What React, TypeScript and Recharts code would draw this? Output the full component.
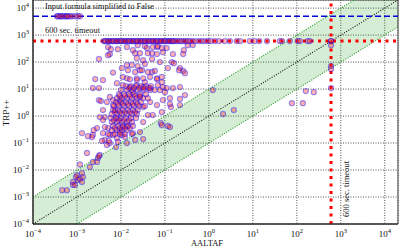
import { ComposedChart, Area, Scatter, XAxis, YAxis, CartesianGrid, ReferenceLine, ReferenceArea } from "recharts";

// axes: both log, same limits
const decadeTicks = [1e-4, 1e-3, 1e-2, 1e-1, 1, 10, 100, 1e3, 1e4];
const axisMin = 1e-4;
const axisMax = 2e4;

const timeoutLimit = 600;     // 600 sec. timeout
const simplifiedLevel = 5000; // "Input formula simplified to False"

// green band: one decade either side of y = x
const bandX = [1e-4, 1e-3, 2e3, 2e4];
const bandLow = [1e-4, 1e-4, 200, 2000];
const bandHigh = [1e-3, 1e-2, 2e4, 2e4];

// runs where TRP++ reported the formula simplified to False
const simplifiedX = [3.5e-4, 3.7e-4, 4.1e-4, 4.3e-4, 4.6e-4, 5.1e-4, 5.6e-4, 5.9e-4, 6.2e-4, 6.9e-4, 7.7e-4, 9.0e-4, 1.05e-3, 1.17e-3];

// runs where TRP++ timed out (AALTAF time)
const timeoutX = [
  4.1e-3, 4.3e-3, 4.6e-3, 5.1e-3, 5.3e-3, 5.6e-3, 6.2e-3, 6.6e-3, 6.9e-3, 7.7e-3, 8.1e-3, 8.5e-3, 9.5e-3, 1.0e-2,
  1.05e-2, 1.17e-2, 1.23e-2, 1.3e-2, 1.44e-2, 1.52e-2, 1.6e-2, 1.78e-2, 1.87e-2, 1.97e-2, 2.2e-2, 2.3e-2, 2.4e-2,
  2.7e-2, 2.85e-2, 3.0e-2, 3.3e-2, 3.5e-2, 3.7e-2, 4.1e-2, 4.3e-2, 4.6e-2, 5.1e-2, 5.3e-2, 5.6e-2, 6.2e-2, 6.6e-2,
  6.9e-2, 7.7e-2, 8.1e-2, 8.5e-2, 9.5e-2, 0.1, 0.105, 0.117, 0.124, 0.13, 0.144, 0.152, 0.16, 0.178, 0.197, 0.22,
  0.24, 0.27, 0.3, 0.33, 0.37, 0.43, 0.5, 0.6, 0.7, 0.81, 0.95, 1.1, 1.37, 1.7, 2.3, 3.0, 4.3, 5.1, 8.5, 11, 14,
  21, 41, 46, 69, 105, 117, 178, 197, 600,
];

// runs where AALTAF timed out
const aaltafTimeoutY = [600, 425, 71, 55, 10.9];

// [AALTAF, TRP++] seconds
const solvedRuns: [number, number][] = [
  // upper scatter
  [3.16e-3, 130], [5.1e-3, 360], [5.6e-3, 198], [5.9e-3, 300], [8.5e-3, 300], [1.37e-2, 360], [1.87e-2, 277],
  [2.4e-2, 425], [2.7e-2, 214], [3.5e-2, 390], [3.9e-2, 330], [5.1e-2, 214], [5.3e-2, 360], [6.6e-2, 360],
  [6.9e-2, 390], [9.0e-2, 233], [8.5e-2, 330], [0.11, 330], [0.152, 198], [0.27, 277], [0.26, 198], [0.33, 425],
  [0.43, 430], [5.1e-3, 180], [2.1e-2, 214], [4.1e-2, 214], [6.6e-2, 198], [2.3e-2, 140], [3.2e-2, 117], [5.1e-2, 130],
  [0.144, 100], [0.16, 91], [0.22, 60], [7.7e-2, 100], [2.6e-3, 23.5], [6.6e-3, 41], [1.05e-2, 60], [1.78e-2, 78],
  [1.37e-2, 78], [2.7e-2, 50], [5.1e-2, 43], [8.1e-3, 16.6], [1.37e-2, 25], [2.3e-2, 25], [3.5e-2, 18], [6.6e-2, 25],
  [0.26, 47], [0.285, 39], [0.117, 60], [0.21, 50], [8.5e-2, 28], [8.5e-2, 18], [2.4e-2, 71], [3.5e-2, 85],
  [1.44e-2, 50], [2.1e-2, 43], [3.0e-2, 50], [4.1e-2, 43], [5.9e-2, 47], [3.9e-3, 21.5], [1.1e-2, 28], [1.6e-2, 23],
  [2.3e-2, 21.5], [3.2e-2, 25], [4.6e-2, 28], [6.6e-2, 23.5],
  // middle scatter
  [3.16e-3, 10.9], [2.3e-3, 10.9], [0.11, 10.9], [0.152, 10.9], [6.9e-2, 14], [9.0e-2, 11.9], [0.22, 11.9],
  [7.7e-2, 9.2], [0.1, 7.7], [0.285, 6.0], [0.13, 4.6], [0.22, 4.3], [1.1e-2, 14], [1.6e-2, 11.9], [2.3e-2, 14],
  [3.2e-2, 11.9], [4.6e-2, 10.9], [1.87e-2, 7.7],
  [3.16e-3, 3.9], [3.5e-3, 3.6], [3.9e-3, 1.67], [5.6e-3, 5.1], [6.6e-3, 2.55], [9.5e-3, 3.9], [2.7e-2, 5.1],
  [4.6e-2, 3.3], [6.6e-2, 2.55], [9.0e-2, 3.9], [0.137, 2.15], [8.1e-3, 0.84], [3.3e-3, 0.92], [5.3e-2, 1.09],
  [8.5e-2, 1.4], [4.8e-3, 3.3], [4.3e-3, 0.92], [3.9e-3, 0.71], [6.6e-3, 3.9], [7.3e-3, 1.67], [3.2e-2, 2.15],
  [4.1e-2, 1.09], [3.2e-2, 0.6], [0.13, 2.8], [0.22, 2.55],
  [2.85e-3, 0.36], [5.1e-3, 0.36], [2.3e-3, 0.2], [5.6e-3, 0.2], [2.7e-2, 0.255], [1.87e-2, 0.234], [8.1e-2, 0.55],
  [0.117, 0.43], [8.5e-2, 0.46], [0.13, 0.39], [3.2e-2, 0.14], [1.3e-3, 0.234], [1.78e-3, 0.18], [2.2e-3, 0.167],
  [3.9e-3, 0.234], [4.3e-3, 0.13], [4.8e-3, 0.084], [6.6e-3, 0.2], [8.1e-3, 0.153], [1.05e-2, 0.2], [1.23e-2, 0.167],
  [1.37e-2, 0.1], [5.6e-3, 0.1], [2.4e-3, 0.3], [4.3e-3, 0.39], [5.1e-3, 0.215], [3.7e-3, 0.12], [5.3e-3, 0.12],
  [7.7e-3, 0.071], [8.5e-3, 0.11], [2.1e-2, 0.13], [9.5e-3, 0.255], [1.1e-2, 0.39], [1.37e-2, 0.43], [1.78e-2, 0.215],
  // lower tail
  [1.69e-3, 0.043], [3.3e-3, 0.036], [3.0e-3, 0.028], [2.85e-3, 0.02], [1.97e-3, 0.013], [1.17e-3, 0.016],
  [1.3e-3, 7.7e-3], [1.37e-3, 5.5e-3], [1.0e-3, 6.5e-3], [8.1e-4, 3.6e-3], [1.05e-3, 4.3e-3], [8.1e-4, 2.8e-3],
  [5.9e-4, 1.8e-3], [4.6e-4, 1.8e-3], [9.0e-4, 2.8e-3], [9.5e-4, 5.5e-3], [1.17e-3, 4.7e-3], [1.3e-3, 3.6e-3],
  [2.3e-3, 0.02], [3.16e-3, 0.033],
  // right side
  [1.23, 9.2], [2.1, 1.19], [3.7, 1.67], [77, 3.0], [137, 3.0], [160, 8.4], [243, 7.7],
  // dense core
  [1.3e-2, 12.9], [1.69e-2, 12.9], [2.2e-2, 12.9], [2.85e-2, 12.9], [3.7e-2, 12.9], [4.8e-2, 12.9],
  [1.0e-2, 9.2], [1.37e-2, 9.2], [1.78e-2, 9.2], [2.4e-2, 9.2], [3.3e-2, 9.2], [4.6e-2, 9.2], [5.9e-2, 9.2],
  [9.0e-3, 6.5], [1.17e-2, 6.5], [1.52e-2, 6.5], [1.97e-2, 6.5], [2.7e-2, 6.5], [3.7e-2, 6.5],
  [8.1e-3, 4.6], [1.05e-2, 4.6], [1.37e-2, 4.6], [1.78e-2, 4.6], [2.3e-2, 4.6], [3.2e-2, 4.6], [4.1e-2, 4.6],
  [7.7e-3, 3.3], [1.0e-2, 3.3], [1.3e-2, 3.3], [1.69e-2, 3.3], [2.2e-2, 3.3], [2.85e-2, 3.3],
  [6.9e-3, 2.35], [9.0e-3, 2.35], [1.17e-2, 2.35], [1.52e-2, 2.35], [1.97e-2, 2.35], [2.6e-2, 2.35], [3.5e-2, 2.35],
  [6.6e-3, 1.67], [8.5e-3, 1.67], [1.1e-2, 1.67], [1.44e-2, 1.67], [1.87e-2, 1.67], [2.4e-2, 1.67],
  [6.2e-3, 1.19], [8.1e-3, 1.19], [1.05e-2, 1.19], [1.37e-2, 1.19], [1.78e-2, 1.19], [2.3e-2, 1.19],
  [5.9e-3, 0.84], [7.7e-3, 0.84], [1.0e-2, 0.84], [1.3e-2, 0.84], [1.69e-2, 0.84], [2.2e-2, 0.84],
  [6.2e-3, 0.6], [8.1e-3, 0.6], [1.05e-2, 0.6], [1.37e-2, 0.6], [1.78e-2, 0.6],
  [6.6e-3, 0.43], [8.5e-3, 0.43], [1.1e-2, 0.43], [1.44e-2, 0.43], [1.87e-2, 0.43],
  [6.2e-3, 0.3], [8.1e-3, 0.3], [1.05e-2, 0.3], [1.37e-2, 0.3],
  [7.3e-3, 0.215], [9.5e-3, 0.215], [1.23e-2, 0.215],
  [1.52e-2, 10.9], [1.97e-2, 10.9], [2.6e-2, 10.9], [3.3e-2, 10.9], [4.3e-2, 10.9],
  [9.5e-3, 5.5], [1.23e-2, 5.5], [1.6e-2, 5.5], [2.1e-2, 5.5], [2.7e-2, 5.5],
  [8.5e-3, 2.8], [1.1e-2, 2.8], [1.44e-2, 2.8], [1.87e-2, 2.8], [2.4e-2, 2.8],
  [7.3e-3, 1.4], [9.5e-3, 1.4], [1.23e-2, 1.4], [1.6e-2, 1.4], [2.1e-2, 1.4],
  [6.9e-3, 0.71], [9.0e-3, 0.71], [1.17e-2, 0.71], [1.52e-2, 0.71],
  [7.3e-3, 0.36], [9.5e-3, 0.36], [1.23e-2, 0.36], [1.6e-2, 0.36],
];

const serif = "'Liberation Serif', 'DejaVu Serif', serif";

function expLabel(v: number) {
  const e = Math.round(Math.log10(v));
  return e < 0 ? `\u2212${-e}` : `${e}`;
}

function XTick(props: any) {
  const { x, y, payload } = props;
  return (
    <text x={x} y={y + 11} textAnchor="middle" fontSize={9} fill="#111" fontFamily={serif}>
      10<tspan dy={-4} fontSize={6.5}>{expLabel(payload.value)}</tspan>
    </text>
  );
}

function YTick(props: any) {
  const { x, y, payload } = props;
  return (
    <text x={x - 2} y={y + 3} textAnchor="end" fontSize={9} fill="#111" fontFamily={serif}>
      10<tspan dy={-4} fontSize={6.5}>{expLabel(payload.value)}</tspan>
    </text>
  );
}

function Dot(props: any) {
  const { cx, cy } = props;
  if (cx == null || cy == null) return null;
  return <circle cx={cx} cy={cy} r={2.6} fill="#ff1010" fillOpacity={0.33} stroke="#1010ff" strokeOpacity={0.42} strokeWidth={1.1} />;
}

export default function App() {
  const bandData = bandX.map((x, i) => ({ x, band: [bandLow[i], bandHigh[i]] }));
  const runs = [
    ...solvedRuns.map(([x, y]) => ({ x, y })),
    ...simplifiedX.map((x) => ({ x, y: simplifiedLevel })),
    ...timeoutX.map((x) => ({ x, y: timeoutLimit })),
    ...aaltafTimeoutY.map((y) => ({ x: timeoutLimit, y })),
  ];

  return (
    <div style={{ position: "absolute", left: 0, top: 0, width: 399, height: 247, background: "#fff" }}>
      <ComposedChart width={399} height={247} data={bandData} margin={{ top: 0, right: 1, bottom: 0, left: 0 }}>
        <Area dataKey="band" type="linear" stroke="none" fill="#2ca02c" fillOpacity={0.2} isAnimationActive={false} />
        <CartesianGrid stroke="#555" strokeDasharray="1 1.5" />
        <XAxis
          dataKey="x"
          type="number"
          scale="log"
          domain={[axisMin, axisMax]}
          allowDataOverflow
          ticks={decadeTicks}
          interval={0}
          height={23}
          tickSize={0}
          tickLine={false}
          axisLine={{ stroke: "#222" }}
          tick={(p: any) => <XTick {...p} />}
        />
        <YAxis
          dataKey="y"
          type="number"
          scale="log"
          domain={[axisMin, axisMax]}
          allowDataOverflow
          ticks={decadeTicks}
          interval={0}
          width={33}
          tickSize={0}
          tickLine={false}
          axisLine={{ stroke: "#222" }}
          tick={(p: any) => <YTick {...p} />}
        />
        <ReferenceLine segment={[{ x: 1e-4, y: 1e-3 }, { x: 2e3, y: 2e4 }]} stroke="#2ca02c" strokeWidth={1.2} strokeDasharray="1 1.5" />
        <ReferenceLine segment={[{ x: 1e-3, y: 1e-4 }, { x: 2e4, y: 2e3 }]} stroke="#2ca02c" strokeWidth={1.2} strokeDasharray="1 1.5" />
        <ReferenceLine segment={[{ x: 1e-4, y: 1e-4 }, { x: 2e4, y: 2e4 }]} stroke="#111" strokeWidth={1.1} strokeDasharray="1 1.5" />
        <Scatter data={runs} shape={(p: any) => <Dot {...p} />} isAnimationActive={false} />
        <ReferenceLine y={simplifiedLevel} stroke="#0000dd" strokeWidth={1.6} strokeDasharray="6 3" />
        <ReferenceLine y={timeoutLimit} stroke="#ff0000" strokeWidth={3} strokeDasharray="3 4.5" />
        <ReferenceLine x={timeoutLimit} stroke="#ff0000" strokeWidth={3} strokeDasharray="3 4.5" />
        <ReferenceArea x1={axisMin} x2={axisMax} y1={axisMin} y2={axisMax} fill="none" stroke="#444" strokeWidth={1} />
      </ComposedChart>
      <svg width={399} height={247} style={{ position: "absolute", left: 0, top: 0, pointerEvents: "none" }} fontFamily={serif} fill="#111">
        <text x={45} y={8.5} fontSize={8.5} textLength={109} lengthAdjust="spacingAndGlyphs">Input formula simplified to False</text>
        <text x={45} y={32.5} fontSize={8.5} textLength={55} lengthAdjust="spacingAndGlyphs">600 sec. timeout</text>
        <text x={348.5} y={189} fontSize={8.5} textAnchor="middle" textLength={56} lengthAdjust="spacingAndGlyphs" transform="rotate(-90 348.5 189)">600 sec. timeout</text>
        <text x={207} y={245.5} fontSize={8.5} textAnchor="middle">AALTAF</text>
        <text x={9} y={113} fontSize={9} textAnchor="middle" transform="rotate(-90 9 113)">TRP++</text>
      </svg>
    </div>
  );
}
